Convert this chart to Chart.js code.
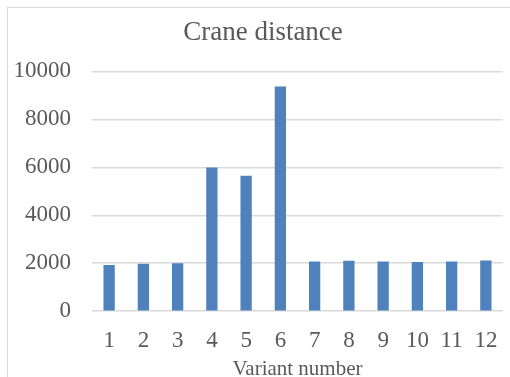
<!DOCTYPE html>
<html>
<head>
<meta charset="utf-8">
<script src="https://cdn.jsdelivr.net/npm/chart.js@4"></script>
<style>
  html, body { margin: 0; padding: 0; background: #fff; overflow: hidden; }
  #wrap { width: 510px; height: 377px; position: relative; }
</style>
</head>
<body>
<div id="wrap"><canvas id="chart"></canvas></div>
<script>
const variants = ['1', '2', '3', '4', '5', '6', '7', '8', '9', '10', '11', '12'];
const distances = [1930, 1975, 2000, 5990, 5650, 9370, 2070, 2100, 2070, 2050, 2070, 2110];
const yTicks = [0, 2000, 4000, 6000, 8000, 10000];

const textColor = '#595959';
const serif = "'Liberation Serif', 'Times New Roman', serif";

// light frame around the whole chart, right/bottom edges are off the picture
const framePlugin = {
  id: 'frame',
  beforeDraw(chart) {
    const ctx = chart.ctx;
    ctx.save();
    ctx.strokeStyle = '#d9d9d9';
    ctx.lineWidth = 1;
    ctx.strokeRect(7.5, 7.5, 600, 600);
    ctx.restore();
  },
  // title sits a little right of the canvas centre in the original
  afterLayout(chart) {
    if (chart.titleBlock) chart.titleBlock.left = 23;
  }
};

new Chart(document.getElementById('chart'), {
  type: 'bar',
  data: {
    labels: variants,
    datasets: [{
      label: 'Crane distance',
      data: distances,
      backgroundColor: '#4f81bd',
      categoryPercentage: 1,
      barPercentage: 0.33
    }]
  },
  options: {
    responsive: true,
    maintainAspectRatio: false,
    animation: false,
    layout: { padding: { left: 0, right: 7, top: 0, bottom: 0 } },
    plugins: {
      legend: { display: false },
      tooltip: { enabled: false },
      title: {
        display: true,
        text: 'Crane distance',
        color: textColor,
        font: { family: serif, size: 27, weight: 'normal' },
        padding: { top: 17, bottom: 22 }
      }
    },
    scales: {
      x: {
        afterFit(scale) {
          // labels fit inside their bands, no extra side padding
          scale.paddingLeft = 0;
          scale.paddingRight = 0;
        },
        grid: { display: false, drawTicks: false },
        border: { display: false },
        ticks: {
          color: textColor,
          font: { family: serif, size: 23 },
          padding: 16,
          maxRotation: 0
        },
        title: {
          display: true,
          text: 'Variant number',
          color: textColor,
          font: { family: serif, size: 21 },
          padding: { top: -14, bottom: -5 }
        }
      },
      y: {
        min: 0,
        max: 10000,
        afterBuildTicks(scale) {
          scale.ticks = yTicks.map(v => ({ value: v }));
        },
        afterFit(scale) { scale.width = 92; },
        grid: { color: '#d9d9d9', lineWidth: 1.5, drawTicks: false },
        border: { display: false },
        ticks: {
          color: textColor,
          font: { family: serif, size: 23 },
          padding: 21,
          callback: v => String(v)
        }
      }
    }
  },
  plugins: [framePlugin]
});
</script>
</body>
</html>
